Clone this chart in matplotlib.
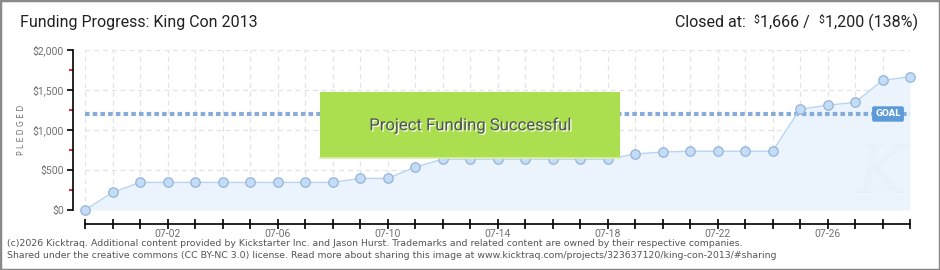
import matplotlib
matplotlib.use('Agg')
import matplotlib.pyplot as plt
import matplotlib.patheffects as pe
from matplotlib.patches import Rectangle
from matplotlib.ticker import FixedLocator

# ---------------- data ----------------
dates = ['06-29', '06-30', '07-01', '07-02', '07-03', '07-04', '07-05', '07-06',
         '07-07', '07-08', '07-09', '07-10', '07-11', '07-12', '07-13', '07-14',
         '07-15', '07-16', '07-17', '07-18', '07-19', '07-20', '07-21', '07-22',
         '07-23', '07-24', '07-25', '07-26', '07-27', '07-28', '07-29']
pledged = [0, 220, 345, 345, 345, 345, 345, 345,
           345, 345, 395, 395, 535, 635, 635, 635,
           635, 635, 635, 635, 700, 725, 735, 735,
           735, 735, 1260, 1310, 1345, 1620, 1666]
goal = 1200
closed = 1666
percent = 138
x_tick_labels = ['07-02', '07-06', '07-10', '07-14', '07-18', '07-22', '07-26']
y_ticks = [0, 500, 1000, 1500, 2000]
y_tick_labels = ['$0', '$500', '$1,000', '$1,500', '$2,000']
y_minor_ticks = [250, 750, 1250, 1750]

FONT = ['Roboto', 'DejaVu Sans']

W, H = 940, 270
fig = plt.figure(figsize=(W / 100, H / 100), dpi=100)
fig.patch.set_facecolor('white')

xs = list(range(len(dates)))
ax = fig.add_axes([85 / W, 60 / H, 825 / W, 160 / H])
ax.set_xlim(xs[0], xs[-1])
ax.set_ylim(y_ticks[0], y_ticks[-1])
ax.set_facecolor('none')

# fill + line
ax.fill_between(xs, pledged, 0, color='#ebf3fc', zorder=1, lw=0)
ax.plot(xs, pledged, color='#b8d4f2', lw=1.0, marker='o', ms=6.8,
        mfc='#c4dcf6', mec='#95b4d8', mew=0.9, clip_on=False, zorder=5)

# goal line
ax.plot([xs[0], xs[-1]], [goal, goal], color='#86acdb', lw=3,
        ls=(0, (1.1, 0.75)), zorder=3, solid_capstyle='butt', dash_capstyle='butt')
ax.annotate('GOAL', xy=(xs[-1] - 0.8, goal), ha='center', va='center',
            fontsize=6, color='white', fontweight='bold', family='DejaVu Sans',
            bbox=dict(boxstyle='round,pad=0.3,rounding_size=0.15', fc='#5c9ad8', ec='#5c9ad8'),
            zorder=7, annotation_clip=False)

# grid
ax.set_xticks(xs)
ax.set_xticklabels([d if d in x_tick_labels else '' for d in dates])
ax.set_yticks(y_ticks)
ax.set_yticklabels(y_tick_labels)
ax.yaxis.set_minor_locator(FixedLocator(y_minor_ticks))
ax.grid(True, which='major', color='#e3e3e3', ls=(0, (4, 3)), lw=0.9, zorder=0)
ax.set_axisbelow(True)

for s in ['top', 'right']:
    ax.spines[s].set_visible(False)
ax.spines['left'].set_position(('outward', 9))
ax.spines['bottom'].set_position(('outward', 10))
ax.spines['left'].set_linewidth(1.2)
ax.spines['bottom'].set_linewidth(1.2)

ax.tick_params(axis='y', which='major', direction='out', length=4, width=1.2,
               color='black', labelsize=7.5, labelcolor='#707070', pad=2)
ax.tick_params(axis='y', which='minor', direction='out', length=3, width=1.2,
               color='#e00000')
ax.tick_params(axis='x', which='major', direction='inout', length=7, width=1.2,
               color='black', labelsize=7.5, labelcolor='#707070', pad=0)
for lab in ax.get_xticklabels() + ax.get_yticklabels():
    lab.set_family(FONT)

# success banner
ax.add_patch(Rectangle((0.285, 0.325), 0.363, 0.4125, transform=ax.transAxes,
                       fc='#abdf50', ec='none', zorder=6))
ax.plot([0.285, 0.648], [0.325, 0.325], transform=ax.transAxes, color='#d8f0a8',
        lw=1.2, zorder=6)
ax.text(0.4665, 0.53, 'Project Funding Successful', transform=ax.transAxes,
        ha='center', va='center', fontsize=12, color='#50555a', family=FONT, zorder=7,
        path_effects=[pe.withSimplePatchShadow(offset=(1, -1), shadow_rgbFace='white',
                                               alpha=0.9)])

# watermark
ax.text(0.965, 0.22, 'K', transform=ax.transAxes, ha='center', va='center',
        fontsize=48, style='italic', color='#e8f0f9', family='DejaVu Serif', zorder=2)

# y label
fig.text(22 / W, 1 - 130 / H, 'P L E D G E D', rotation=90, ha='center', va='center',
         fontsize=5.5, color='#707070', family='DejaVu Sans')

# titles
fig.text(20 / W, 1 - 22 / H, 'Funding Progress: King Con 2013', ha='left', va='center',
         fontsize=11.5, color='#222222', family=FONT)

y_base = 1 - 27 / H
t1 = fig.text(918 / W, y_base, '1,200 (%d%%)' % percent, ha='right', va='baseline',
              fontsize=11.5, color='#222222', family=FONT, parse_math=False)
t2 = fig.text(0, 0, '$', fontsize=7.5, color='#222222', family=FONT, parse_math=False)
t3 = fig.text(0, 0, '1,666 /  ', fontsize=11.5, color='#222222', family=FONT, parse_math=False)
t4 = fig.text(0, 0, '$', fontsize=7.5, color='#222222', family=FONT, parse_math=False)
t5 = fig.text(0, 0, 'Closed at:  ', fontsize=11.5, color='#222222', family=FONT, parse_math=False)

fig.canvas.draw()
r = fig.canvas.get_renderer()


def place_left_of(t, ref, raise_px=0):
    bb = ref.get_window_extent(r)
    t.set_ha('right')
    t.set_va('baseline')
    t.set_position(((bb.x0 - 0.5) / W, y_base + raise_px / H))
    fig.canvas.draw()


place_left_of(t2, t1, raise_px=4)
place_left_of(t3, t2)
place_left_of(t4, t3, raise_px=4)
place_left_of(t5, t4)

# footer
fig.text(7 / W, 1 - 243 / H,
         '(c)2026 Kicktraq. Additional content provided by Kickstarter Inc. and Jason Hurst. '
         'Trademarks and related content are owned by their respective companies.',
         ha='left', va='center', fontsize=6.75, color='#555555', family='DejaVu Sans')
fig.text(7 / W, 1 - 256 / H,
         'Shared under the creative commons (CC BY-NC 3.0) license. Read more about sharing this '
         'image at www.kicktraq.com/projects/323637120/king-con-2013/#sharing',
         ha='left', va='center', fontsize=6.75, color='#555555', family='DejaVu Sans')

# outer frame
fig.patches.append(Rectangle((0, 0), 1, 1, transform=fig.transFigure, fill=False,
                             ec='#8a8a8a', lw=2.5, zorder=10))

fig.savefig('out.png', dpi=100)
